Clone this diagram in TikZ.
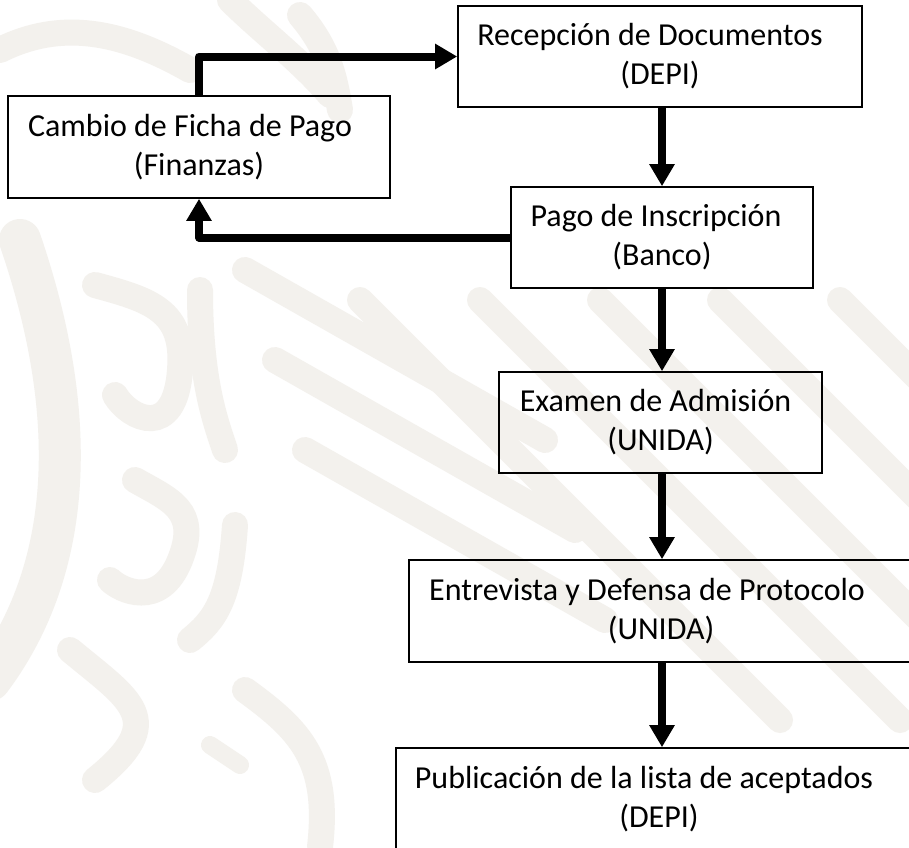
\documentclass[tikz,border=0pt]{standalone}
\usepackage{fontspec}
\setmainfont{Carlito}
\usetikzlibrary{arrows.meta,calc}
\definecolor{wm}{RGB}{243,241,237}
\tikzset{
  box/.style={draw=black, line width=1.6pt, align=center, inner sep=0pt,
    font=\fontsize{32pt}{39pt}\selectfont},
  arr/.style={line width=8pt, line join=round,
    -{Triangle[width=24pt,length=22pt]}},
  wmark/.style={draw=wm, line cap=round, line width=26pt},
}
\begin{document}
\begin{tikzpicture}[x=1pt,y=-1pt]
\path[use as bounding box, fill=white] (0,0) rectangle (909,847);
\clip (0,0) rectangle (909,847);
% faint watermark
\begin{scope}
\draw[wmark, line width=42pt] (20,240) .. controls (75,400) and (80,560) .. (-10,680);
\draw[wmark] (95,285) .. controls (150,300) and (185,310) .. (180,370) .. controls (175,440) and (130,420) .. (115,395);
\draw[wmark] (200,290) .. controls (200,380) and (215,420) .. (225,450);
\draw[wmark] (135,480) .. controls (170,500) and (200,510) .. (180,560) .. controls (160,610) and (120,590) .. (110,580);
\draw[wmark] (235,525) .. controls (230,600) and (215,620) .. (190,640);
\draw[wmark] (70,650) .. controls (130,700) and (170,720) .. (95,780);
\draw[wmark] (245,690) .. controls (300,730) and (330,760) .. (320,847);
\draw[wmark, line width=18pt] (210,745) -- (240,765);
\foreach \o in {0,90,180}{
  \draw[wmark] (245+\o/3,270+\o) -- ++(300,170);
}
\foreach \o in {-200,-80,40,160,280}{
  \draw[wmark] (560+\o,300) -- ++(420,420);
}
\draw[wmark] (0,50) .. controls (60,20) and (120,30) .. (190,70);
\draw[wmark] (300,15) .. controls (330,50) and (335,80) .. (340,110);
\draw[wmark] (230,0) .. controls (260,30) and (300,60) .. (330,95);
\end{scope}
% boxes
\node[box, minimum width=404pt, minimum height=101pt] (rec) at (660,56.5)
  {Recepción de Documentos\hspace*{20pt}\\(DEPI)};
\node[box, minimum width=382pt, minimum height=102pt] (cam) at (199,147)
  {Cambio de Ficha de Pago\hspace*{18pt}\\(Finanzas)};
\node[box, minimum width=302pt, minimum height=101pt] (pago) at (662,237.5)
  {Pago de Inscripción\hspace*{12pt}\\(Banco)};
\node[box, minimum width=323pt, minimum height=101pt] (exam) at (660.5,422.5)
  {Examen de Admisión\hspace*{10pt}\\(UNIDA)};
\node[box, minimum width=504pt, minimum height=102pt] (ent) at (661,611)
  {Entrevista y Defensa de Protocolo\hspace*{28pt}\\(UNIDA)};
\node[box, minimum width=526pt, minimum height=102pt] (pub) at (659,799)
  {Publicación de la lista de aceptados\hspace*{30pt}\\(DEPI)};
% connectors
\draw[arr] (pago.north |- rec.south) -- (pago.north);
\draw[arr] (pago.south) -- (pago.south |- exam.north);
\draw[arr] (pago.south |- exam.south) -- (pago.south |- ent.north);
\draw[arr] (pago.south |- ent.south) -- (pago.south |- pub.north);
\draw[arr] (cam.north) |- (rec.west);
\draw[arr] (pago.west) -| (cam.south);
\end{tikzpicture}
\end{document}
